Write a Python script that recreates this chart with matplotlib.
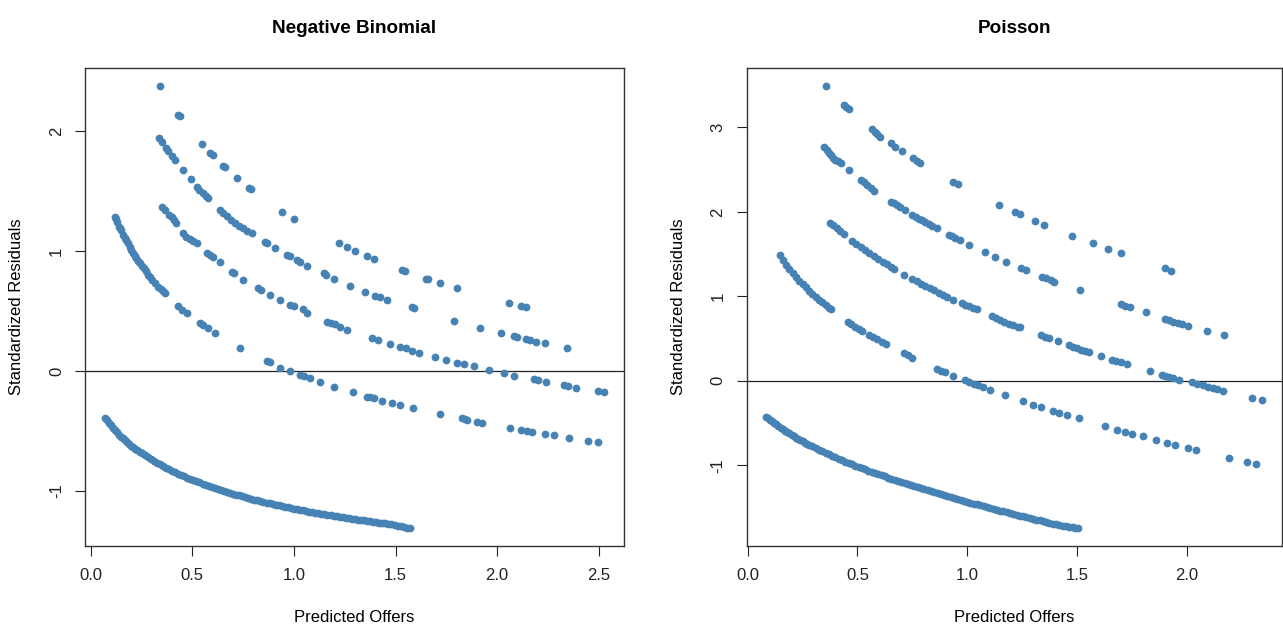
import matplotlib
matplotlib.use("Agg")
import matplotlib.pyplot as plt

plt.rcParams["font.family"] = ["Liberation Sans", "DejaVu Sans"]

POINT_COLOR = "#4682B4"

# ---- Negative Binomial: predicted offers / standardized residuals, by observed count ----
nb_x0 = [0.07, 0.08, 0.09, 0.10, 0.11, 0.12, 0.13, 0.14, 0.15, 0.16, 0.17, 0.18, 0.19,
         0.20, 0.21, 0.22, 0.23, 0.24, 0.25, 0.265, 0.28, 0.295, 0.31, 0.325, 0.34,
         0.355, 0.37, 0.385, 0.40, 0.415, 0.43, 0.445, 0.46, 0.475, 0.49, 0.505, 0.52,
         0.535, 0.55, 0.565, 0.58, 0.595, 0.61, 0.625, 0.64, 0.655, 0.67, 0.685, 0.70,
         0.715, 0.73, 0.745, 0.76, 0.775, 0.79, 0.805, 0.82, 0.835, 0.85, 0.865, 0.88,
         0.895, 0.91, 0.925, 0.94, 0.955, 0.97, 0.985, 1.00, 1.015, 1.03, 1.045, 1.06,
         1.075, 1.09, 1.105, 1.12, 1.135, 1.15, 1.165, 1.18, 1.195, 1.21, 1.225, 1.24,
         1.255, 1.27, 1.285, 1.30, 1.315, 1.33, 1.345, 1.36, 1.375, 1.39, 1.405, 1.42,
         1.435, 1.45, 1.465, 1.48, 1.495, 1.51, 1.525, 1.54, 1.555, 1.57]
nb_r0 = [-0.394, -0.413, -0.432, -0.453, -0.474, -0.493, -0.512, -0.530, -0.547, -0.563,
         -0.579, -0.594, -0.608, -0.622, -0.636, -0.649, -0.661, -0.674, -0.686, -0.703,
         -0.719, -0.735, -0.751, -0.766, -0.780, -0.794, -0.807, -0.820, -0.832, -0.844,
         -0.856, -0.868, -0.879, -0.890, -0.900, -0.910, -0.920, -0.930, -0.940, -0.949,
         -0.958, -0.967, -0.975, -0.984, -0.992, -1.000, -1.008, -1.016, -1.023, -1.031,
         -1.038, -1.045, -1.052, -1.059, -1.065, -1.072, -1.078, -1.085, -1.091, -1.097,
         -1.103, -1.109, -1.115, -1.121, -1.126, -1.132, -1.137, -1.142, -1.147, -1.152,
         -1.157, -1.162, -1.167, -1.172, -1.177, -1.182, -1.186, -1.191, -1.195, -1.200,
         -1.204, -1.208, -1.212, -1.216, -1.220, -1.224, -1.228, -1.232, -1.236, -1.240,
         -1.243, -1.247, -1.251, -1.255, -1.258, -1.262, -1.265, -1.269, -1.272, -1.276,
         -1.280, -1.286, -1.292, -1.297, -1.302, -1.307, -1.312]

nb_x1 = [0.118, 0.124, 0.13, 0.14, 0.145, 0.151, 0.16, 0.167, 0.175, 0.183, 0.192, 0.20,
         0.21, 0.217, 0.225, 0.234, 0.242, 0.251, 0.26, 0.27, 0.283, 0.29, 0.30, 0.315,
         0.332, 0.345, 0.355, 0.365, 0.431, 0.45, 0.472, 0.54, 0.554, 0.575, 0.611, 0.735,
         0.866, 0.88, 0.932, 0.981, 1.031, 1.05, 1.08, 1.129, 1.195, 1.293, 1.359, 1.372,
         1.392, 1.433, 1.483, 1.524, 1.584, 1.718, 1.828, 1.84, 1.852, 1.902, 1.926,
         2.063, 2.115, 2.145, 2.173, 2.234, 2.28, 2.352, 2.447, 2.494]
nb_r1 = [1.286, 1.263, 1.24, 1.20, 1.188, 1.175, 1.13, 1.11, 1.09, 1.065, 1.036, 1.01,
         0.98, 0.96, 0.94, 0.918, 0.897, 0.878, 0.86, 0.835, 0.80, 0.785, 0.76, 0.735,
         0.703, 0.68, 0.665, 0.647, 0.54, 0.51, 0.481, 0.40, 0.383, 0.36, 0.319, 0.194,
         0.086, 0.078, 0.028, 0.003, -0.033, -0.045, -0.061, -0.089, -0.131, -0.178,
         -0.214, -0.218, -0.228, -0.247, -0.264, -0.283, -0.306, -0.361, -0.394, -0.40,
         -0.408, -0.422, -0.436, -0.472, -0.492, -0.50, -0.508, -0.525, -0.533, -0.556,
         -0.581, -0.592]

nb_x2 = [0.349, 0.365, 0.385, 0.398, 0.41, 0.422, 0.455, 0.47, 0.49, 0.505, 0.521, 0.570,
         0.585, 0.60, 0.636, 0.694, 0.705, 0.751, 0.825, 0.84, 0.883, 0.932, 0.981, 0.998,
         1.047, 1.064, 1.162, 1.18, 1.20, 1.228, 1.261, 1.384, 1.412, 1.474, 1.524, 1.55,
         1.58, 1.614, 1.696, 1.746, 1.803, 1.836, 1.885, 1.962, 2.033, 2.082, 2.181, 2.20,
         2.239, 2.329, 2.35, 2.387, 2.494, 2.526]
nb_r2 = [1.369, 1.34, 1.30, 1.286, 1.26, 1.231, 1.147, 1.12, 1.10, 1.08, 1.064, 0.986,
         0.97, 0.95, 0.911, 0.828, 0.82, 0.758, 0.689, 0.675, 0.633, 0.592, 0.55, 0.542,
         0.514, 0.481, 0.411, 0.40, 0.39, 0.369, 0.342, 0.278, 0.258, 0.225, 0.203, 0.19,
         0.17, 0.153, 0.119, 0.092, 0.069, 0.056, 0.042, 0.008, -0.019, -0.042, -0.069,
         -0.075, -0.089, -0.117, -0.125, -0.139, -0.164, -0.178]

nb_x3 = [0.335, 0.35, 0.37, 0.38, 0.40, 0.414, 0.455, 0.491, 0.521, 0.535, 0.55, 0.565,
         0.578, 0.636, 0.65, 0.67, 0.69, 0.71, 0.73, 0.75, 0.77, 0.792, 0.858, 0.865,
         0.907, 0.965, 0.98, 1.014, 1.03, 1.064, 1.146, 1.16, 1.198, 1.277, 1.351, 1.400,
         1.425, 1.458, 1.581, 1.59, 1.787, 1.915, 2.017, 2.082, 2.10, 2.14, 2.16, 2.189,
         2.234, 2.346]
nb_r3 = [1.939, 1.91, 1.856, 1.83, 1.79, 1.758, 1.675, 1.597, 1.536, 1.51, 1.48, 1.46,
         1.439, 1.342, 1.32, 1.29, 1.26, 1.23, 1.21, 1.19, 1.17, 1.147, 1.078, 1.07,
         1.022, 0.967, 0.955, 0.925, 0.91, 0.878, 0.814, 0.80, 0.767, 0.711, 0.661, 0.628,
         0.614, 0.592, 0.531, 0.525, 0.419, 0.361, 0.319, 0.292, 0.28, 0.265, 0.255, 0.244,
         0.231, 0.189]

nb_x4 = [0.340, 0.431, 0.44, 0.546, 0.587, 0.60, 0.649, 0.66, 0.718, 0.781, 0.79, 0.940,
         0.998, 1.220, 1.261, 1.302, 1.359, 1.392, 1.532, 1.548, 1.652, 1.66, 1.721, 1.800,
         2.058, 2.115, 2.140]
nb_r4 = [2.378, 2.133, 2.125, 1.889, 1.814, 1.80, 1.708, 1.70, 1.606, 1.522, 1.515, 1.322,
         1.267, 1.069, 1.036, 1.003, 0.958, 0.933, 0.842, 0.833, 0.769, 0.765, 0.731, 0.694,
         0.564, 0.542, 0.531]

# ---- Poisson ----
po_x0 = [0.085, 0.0925, 0.10, 0.11, 0.12, 0.13, 0.14, 0.15, 0.16, 0.17, 0.18, 0.19,
         0.20, 0.21, 0.22, 0.23, 0.24, 0.25, 0.26, 0.27, 0.28, 0.295, 0.31, 0.325, 0.34,
         0.355, 0.37, 0.385, 0.40, 0.415, 0.43, 0.445, 0.46, 0.475, 0.49, 0.505, 0.52,
         0.535, 0.55, 0.565, 0.58, 0.595, 0.61, 0.625, 0.64, 0.655, 0.67, 0.685, 0.70,
         0.715, 0.73, 0.745, 0.76, 0.775, 0.79, 0.805, 0.82, 0.835, 0.85, 0.865, 0.88,
         0.895, 0.91, 0.925, 0.94, 0.955, 0.97, 0.985, 1.00, 1.015, 1.03, 1.045, 1.06,
         1.075, 1.09, 1.105, 1.12, 1.135, 1.15, 1.165, 1.18, 1.195, 1.21, 1.225, 1.24,
         1.255, 1.27, 1.285, 1.30, 1.315, 1.33, 1.345, 1.36, 1.375, 1.39, 1.405, 1.42,
         1.435, 1.45, 1.465, 1.48, 1.493, 1.506]
po_r0 = [-0.430, -0.445, -0.460, -0.478, -0.497, -0.517, -0.537, -0.555, -0.574, -0.591,
         -0.609, -0.625, -0.642, -0.657, -0.673, -0.688, -0.703, -0.717, -0.732, -0.745,
         -0.759, -0.779, -0.799, -0.818, -0.837, -0.855, -0.873, -0.890, -0.908, -0.924,
         -0.941, -0.957, -0.973, -0.989, -1.005, -1.020, -1.035, -1.049, -1.064, -1.078,
         -1.093, -1.107, -1.121, -1.134, -1.148, -1.161, -1.175, -1.188, -1.201, -1.213,
         -1.226, -1.238, -1.251, -1.263, -1.275, -1.287, -1.299, -1.311, -1.323, -1.334,
         -1.346, -1.357, -1.369, -1.380, -1.391, -1.402, -1.413, -1.424, -1.435, -1.445,
         -1.456, -1.466, -1.477, -1.487, -1.498, -1.508, -1.519, -1.529, -1.539, -1.549,
         -1.559, -1.569, -1.579, -1.588, -1.598, -1.607, -1.617, -1.626, -1.636, -1.645,
         -1.655, -1.664, -1.673, -1.682, -1.692, -1.701, -1.710, -1.717, -1.725, -1.731,
         -1.738, -1.743, -1.748]

po_x1 = [0.145, 0.16, 0.175, 0.19, 0.205, 0.22, 0.235, 0.25, 0.265, 0.28, 0.295, 0.31,
         0.325, 0.34, 0.355, 0.37, 0.38, 0.455, 0.47, 0.49, 0.505, 0.523, 0.553, 0.57,
         0.59, 0.61, 0.628, 0.711, 0.73, 0.750, 0.862, 0.88, 0.900, 0.937, 0.990, 1.01,
         1.03, 1.05, 1.073, 1.103, 1.171, 1.254, 1.299, 1.337, 1.390, 1.420, 1.455, 1.510,
         1.627, 1.684, 1.721, 1.752, 1.802, 1.860, 1.910, 1.945, 2.005, 2.043, 2.194,
         2.277, 2.315]
po_r1 = [1.491, 1.43, 1.375, 1.323, 1.275, 1.229, 1.186, 1.145, 1.105, 1.067, 1.031,
         0.996, 0.962, 0.929, 0.897, 0.866, 0.846, 0.690, 0.67, 0.64, 0.61, 0.584, 0.544,
         0.52, 0.49, 0.46, 0.438, 0.328, 0.30, 0.269, 0.138, 0.12, 0.098, 0.059, 0.004,
         -0.015, -0.035, -0.055, -0.078, -0.107, -0.166, -0.245, -0.284, -0.316, -0.355,
         -0.383, -0.411, -0.446, -0.541, -0.580, -0.612, -0.627, -0.659, -0.706, -0.737,
         -0.757, -0.797, -0.825, -0.915, -0.967, -0.982]

po_x2 = [0.376, 0.39, 0.405, 0.42, 0.439, 0.477, 0.495, 0.515, 0.535, 0.555, 0.575, 0.595,
         0.615, 0.635, 0.655, 0.666, 0.711, 0.749, 0.77, 0.79, 0.81, 0.83, 0.85, 0.87,
         0.89, 0.91, 0.937, 0.975, 0.99, 1.01, 1.025, 1.043, 1.111, 1.13, 1.148, 1.17,
         1.19, 1.21, 1.231, 1.239, 1.337, 1.355, 1.372, 1.412, 1.465, 1.48, 1.50, 1.52,
         1.535, 1.556, 1.611, 1.661, 1.68, 1.70, 1.729, 1.835, 1.887, 1.90, 1.92, 1.94,
         1.963, 2.023, 2.045, 2.076, 2.099, 2.12, 2.14, 2.166, 2.298, 2.344]
po_r2 = [1.872, 1.840, 1.806, 1.773, 1.733, 1.656, 1.621, 1.583, 1.546, 1.511, 1.476,
         1.442, 1.409, 1.377, 1.346, 1.328, 1.248, 1.206, 1.177, 1.150, 1.123, 1.096,
         1.070, 1.045, 1.020, 0.995, 0.962, 0.920, 0.90, 0.88, 0.865, 0.849, 0.761, 0.74,
         0.722, 0.70, 0.675, 0.655, 0.641, 0.635, 0.536, 0.52, 0.501, 0.465, 0.418, 0.405,
         0.39, 0.37, 0.355, 0.335, 0.296, 0.249, 0.235, 0.22, 0.198, 0.118, 0.071, 0.06,
         0.045, 0.03, 0.012, -0.020, -0.035, -0.047, -0.075, -0.09, -0.10, -0.118, -0.205,
         -0.233]

po_x3 = [0.349, 0.36, 0.37, 0.379, 0.39, 0.40, 0.412, 0.424, 0.462, 0.515, 0.53, 0.545,
         0.56, 0.575, 0.651, 0.665, 0.68, 0.695, 0.719, 0.749, 0.765, 0.78, 0.795, 0.81,
         0.825, 0.84, 0.862, 0.915, 0.93, 0.945, 0.967, 1.010, 1.080, 1.126, 1.176, 1.247,
         1.266, 1.342, 1.36, 1.38, 1.397, 1.513, 1.699, 1.72, 1.740, 1.817, 1.903, 1.92,
         1.94, 1.96, 1.98, 2.008, 2.091, 2.170]
po_r3 = [2.765, 2.73, 2.70, 2.675, 2.64, 2.62, 2.60, 2.576, 2.497, 2.379, 2.35, 2.32,
         2.285, 2.252, 2.122, 2.10, 2.08, 2.06, 2.024, 1.964, 1.94, 1.92, 1.90, 1.875,
         1.855, 1.835, 1.807, 1.728, 1.71, 1.69, 1.669, 1.609, 1.530, 1.471, 1.412, 1.333,
         1.314, 1.234, 1.215, 1.195, 1.175, 1.069, 0.907, 0.89, 0.872, 0.809, 0.730, 0.715,
         0.70, 0.685, 0.67, 0.651, 0.592, 0.536]

po_x4 = [0.357, 0.439, 0.45, 0.462, 0.568, 0.58, 0.59, 0.605, 0.651, 0.673, 0.704, 0.753,
         0.77, 0.786, 0.937, 0.960, 1.145, 1.216, 1.239, 1.307, 1.352, 1.477, 1.575, 1.642,
         1.699, 1.903, 1.930]
po_r4 = [3.495, 3.266, 3.24, 3.215, 2.979, 2.95, 2.92, 2.891, 2.813, 2.773, 2.722, 2.635,
         2.605, 2.576, 2.359, 2.331, 2.083, 1.996, 1.973, 1.893, 1.846, 1.716, 1.629, 1.562,
         1.511, 1.334, 1.305]

nb_xticks = [0.0, 0.5, 1.0, 1.5, 2.0, 2.5]
nb_yticks = [-1, 0, 1, 2]
po_xticks = [0.0, 0.5, 1.0, 1.5, 2.0]
po_yticks = [-1, 0, 1, 2, 3]

panels = [
    ("Negative Binomial", [(nb_x0, nb_r0), (nb_x1, nb_r1), (nb_x2, nb_r2), (nb_x3, nb_r3), (nb_x4, nb_r4)],
     nb_xticks, nb_yticks, [85 / 1283, 0.125, 539 / 1283, 478 / 624]),
    ("Poisson", [(po_x0, po_r0), (po_x1, po_r1), (po_x2, po_r2), (po_x3, po_r3), (po_x4, po_r4)],
     po_xticks, po_yticks, [746.5 / 1283, 0.125, 535.5 / 1283, 478 / 624]),
]

fig = plt.figure(figsize=(12.83, 6.24), dpi=100)

for title, bands, xt, yt, rect in panels:
    ax = fig.add_axes(rect)
    for xs, rs in bands:
        ax.plot(xs, rs, "o", color=POINT_COLOR, markersize=5.6, markeredgewidth=0)
    ax.margins(0.04)
    ax.axhline(0, color="#222222", lw=0.9, zorder=0)
    ax.set_xticks(xt)
    ax.set_xticklabels([f"{v:.1f}" for v in xt])
    ax.set_yticks(yt)
    ax.set_yticklabels([str(v) for v in yt])
    ax.tick_params(direction="out", length=7.2, width=0.8, labelsize=12, colors="#222222")
    ax.tick_params(axis="x", pad=9)
    ax.tick_params(axis="y", pad=8, labelrotation=90)
    plt.setp(ax.get_yticklabels(), va="center")
    for sp in ax.spines.values():
        sp.set_linewidth(1.0)
        sp.set_color("#333333")

    cx = rect[0] + rect[2] / 2
    fig.text(cx, 1 - 28.5 / 624, title, ha="center", va="center",
             fontsize=13.6, fontweight="bold")
    fig.text(cx, 1 - 617 / 624, "Predicted Offers", ha="center", va="center", fontsize=12)
    fig.text(rect[0] - 68 / 1283, 1 - 307 / 624, "Standardized Residuals", ha="center",
             va="center", rotation=90, fontsize=12)

fig.savefig("out.png", dpi=100)
